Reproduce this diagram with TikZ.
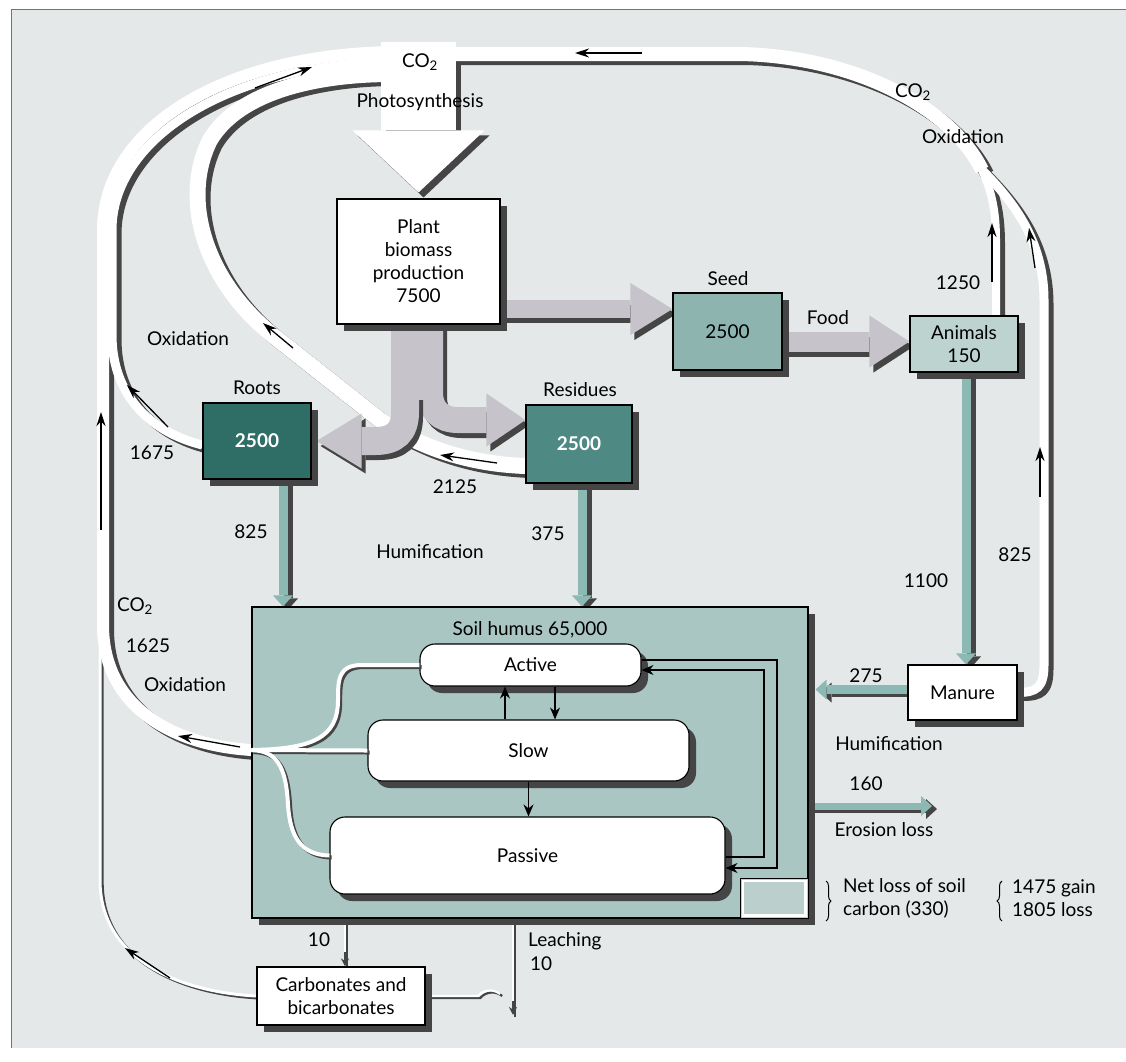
\documentclass[tikz,border=0pt]{standalone}
\usepackage{fontspec}
\setmainfont{Lato}
\usetikzlibrary{arrows.meta,shadows,decorations.pathreplacing,calc}
\pgfdeclarelayer{back}
\pgfdeclarelayer{bands}
\pgfdeclarelayer{arrs}
\pgfsetlayers{back,bands,arrs,main}
\definecolor{bgc}{HTML}{E4E8E8}
\definecolor{bsh}{HTML}{454545}
\definecolor{grayc}{HTML}{C6C4CA}
\definecolor{tealc}{HTML}{8DB9B4}
\definecolor{rootc}{HTML}{2F6E67}
\definecolor{resc}{HTML}{4E8984}
\definecolor{seedc}{HTML}{8EB4AF}
\definecolor{animc}{HTML}{BCD3D0}
\definecolor{soilc}{HTML}{A9C6C3}
\definecolor{insetc}{HTML}{BBD0CD}
\begin{document}
\begin{tikzpicture}[x=1pt,y=-1pt,
  font=\fontsize{19}{23}\selectfont,
  lbl/.style={inner sep=0pt, align=center},
  box/.style={draw=black, line width=1.1pt, inner sep=2pt, align=center,
     drop shadow={shadow xshift=7pt, shadow yshift=-7pt, opacity=1, fill=bsh}},
  pool/.style={box, rounded corners=15pt, fill=white},
  wsh/.style={draw=bsh, line width=#1, transform canvas={xshift=5pt,yshift=-4pt}},
  wfg/.style={draw=white, line width=#1},
  tsh/.style={draw=bsh, line width=#1, transform canvas={xshift=2.2pt,yshift=-2pt}},
  tfg/.style={draw=white, line width=#1},
  barr/.style={draw=black, line width=1.3pt, -{Stealth[length=14pt,width=9pt]}},
  iarr/.style={draw=black, line width=1.3pt, -{Stealth[length=12pt,width=10pt]}},
  garr/.style n args={3}{draw=grayc, line width=#1,
     -{Triangle[length=#2,width=#3,line width=0pt 0 0]}},
  gsh/.style n args={3}{draw=bsh, line width=#1,
     -{Triangle[length=#2,width=#3,line width=0pt 0 0]}, transform canvas={xshift=4pt,yshift=-5pt}},
  tarr/.style={draw=tealc, line width=9pt,
     -{Triangle[length=11pt,width=20pt,line width=0pt 0 0]}},
  tash/.style={draw=bsh, line width=9pt,
     -{Triangle[length=11pt,width=20pt,line width=0pt 0 0]}, transform canvas={xshift=5pt,yshift=-3pt}},
]
\useasboundingbox (0,0) rectangle (1126,1061);
\begin{pgfonlayer}{back}
  \fill[white] (0,0) rectangle (1126,1061);
  \fill[bgc] (11,9) rectangle (1126,1048);
  \draw[black!55, line width=1pt] (11,1048) -- (11,9) -- (1126,9);
\end{pgfonlayer}

% ---------- boxes ----------
\node[box, fill=soilc, minimum width=556pt, minimum height=311pt] (soil) at (530,762.5) {};
\node[draw=black, line width=0.8pt, fill=insetc, minimum width=68pt, minimum height=40pt,
      anchor=south east, inner sep=0pt] (inset) at (soil.south east) {};
\draw[white, line width=2.5pt] ([shift={(3pt,-3pt)}]inset.north west) rectangle ([shift={(-3pt,3pt)}]inset.south east);
\node[pool, minimum width=221pt, minimum height=42pt] (active) at (530.5,665) {Active};
\node[pool, minimum width=321pt, minimum height=61pt] (slow) at (528.5,750.5) {Slow};
\node[pool, minimum width=395pt, minimum height=77pt] (passive) at (527.5,855.5) {Passive};
\node[box, fill=white, minimum width=163pt, minimum height=125pt] (plant) at (418.5,261.5) {Plant\\biomass\\production\\7500};
\node[box, fill=seedc, minimum width=109pt, minimum height=77pt] (seed) at (727.5,331.5) {2500};
\node[box, fill=animc, minimum width=108pt, minimum height=56pt] (animals) at (964,344) {Animals\\150};
\node[box, fill=rootc, text=white, font=\fontsize{19}{23}\selectfont\bfseries, minimum width=108pt, minimum height=76pt] (roots) at (257,441) {2500};
\node[box, fill=resc, text=white, font=\fontsize{19}{23}\selectfont\bfseries, minimum width=106pt, minimum height=78pt] (residues) at (579,444) {2500};
\node[box, fill=white, minimum width=109pt, minimum height=55pt] (manure) at (962.5,692.5) {Manure};
\node[box, fill=white, minimum width=168pt, minimum height=58pt] (carb) at (341,996) {Carbonates and\\bicarbonates};

\coordinate (merge) at ([yshift=12.5pt]soil.west);
\coordinate (leachend) at (513,1015);
\coordinate (eros) at (932,806);
\coordinate (sEm) at ([xshift=7pt]soil.east);

% ---------- white bands ----------
\def\carbL{(carb.west) .. controls (180,992) and (100,960) .. (100,880) -- (100,650)}
\def\bandA{(merge) .. controls (170,745) and (103,705) .. (103,625) -- (103,230) .. controls (103,130) and (220,55) .. (392,52)}
\def\bandB{([yshift=-4pt]roots.west) .. controls (150,432) and (112,395) .. (112,335) -- (112,230) .. controls (112,140) and (225,65) .. (392,62)}
\def\bandC{([yshift=-22pt]residues.west) .. controls (470,464) and (420,448) .. (380,420) -- (275,337) .. controls (205,282) and (180,200) .. (210,140) .. controls (240,90) and (320,74) .. (392,74)}
\def\bandD{(452,54) -- (740,54) .. controls (850,56) and (950,105) .. (982,170)}
\def\bandDa{(982,170) .. controls (992,192) and (996,212) .. (996,240) -- ([xshift=32pt]animals.north)}
\def\bandDb{(982,170) .. controls (1012,200) and (1044,240) .. (1044,300) -- (1044,665) .. controls (1044,688) and (1036,692.5) .. (manure.east)}
\begin{pgfonlayer}{bands}
  \draw[tsh=3] \carbL; \draw[tfg=3] \carbL;
  \draw[wsh=12] \bandA; \draw[wsh=9] \bandB; \draw[wsh=16] \bandC;
  \draw[wfg=12] \bandA; \draw[wfg=9] \bandB; \draw[wfg=16] \bandC;
  % photosynthesis arrow
  \draw[draw=bsh, line width=75pt, -{Triangle[length=62pt,width=132pt,line width=0pt 0 0]},
        transform canvas={xshift=5pt,yshift=-5pt}] (418.5,42) -- ([yshift=6pt]plant.north);
  \draw[draw=white, line width=75pt, -{Triangle[length=62pt,width=132pt,line width=0pt 0 0]}]
        (418.5,42) coordinate (photo) -- ([yshift=6pt]plant.north);
  \draw[wsh=14] \bandD; \draw[wsh=8] \bandDa; \draw[wsh=9] \bandDb;
  \draw[wfg=14] \bandD; \draw[wfg=8] \bandDa; \draw[wfg=9] \bandDb;
  % direction marks on bands
  \draw[barr] (642,53) -- (575,53);
  \draw[barr] (255,88) -- (312,67);
  \draw[barr] (101,530) -- (101,412);
  \draw[barr] (168,427) -- (127,385);
  \draw[barr] (293,348) -- (263,323);
  \draw[barr] (497,463) -- (440,455);
  \draw[barr] (992,282) -- (992,223);
  \draw[barr] (1035,268) -- (1029,228);
  \draw[barr] (1040,497) -- (1040,447);
  \draw[barr] (240,747) -- (178,736);
  \draw[barr] (170,978) -- (125,948);
\end{pgfonlayer}

% ---------- grey and teal arrows ----------
\def\gR{(430,324) -- (430,392) .. controls (430,410) and (440,420) .. (458,420) -- (residues.west |- 0,420)}
\def\gL{([xshift=-13.5pt,yshift=-61pt]plant.south) -- (405,412) .. controls (405,432) and (395,441) .. (375,441) -- ([xshift=5pt]roots.east)}
\def\gS{([yshift=-47.5pt]plant.east) coordinate (ps) -- (ps -| seed.west)}
\def\gF{([yshift=-10pt]seed.east) coordinate (sa) -- (sa -| animals.west)}
\def\tR{([xshift=26pt]roots.south) coordinate (rt) -- (rt |- soil.north)}
\def\tS{([xshift=3pt]residues.south) coordinate (rs) -- (rs |- soil.north)}
\def\tA{([xshift=2pt]animals.south) coordinate (am) -- (am |- manure.north)}
\def\tM{([yshift=3pt]manure.west) coordinate (mw) -- (mw -| sEm)}
\def\tE{([yshift=-43.5pt]soil.east) -- (eros)}
\begin{pgfonlayer}{arrs}
  \draw[gsh={26pt}{39pt}{53pt}] \gR;
  \draw[garr={26pt}{39pt}{53pt}] \gR;
  \draw[gsh={28pt}{45pt}{55pt}] \gL;
  \draw[garr={28pt}{45pt}{55pt}] \gL;
  \fill[grayc] ([xshift=-27.5pt]plant.south) rectangle ([xshift=24.5pt,yshift=-75pt]plant.south);
  \draw[gsh={18pt}{42pt}{52pt}] \gS;
  \draw[garr={18pt}{42pt}{52pt}] \gS;
  \draw[gsh={20pt}{40pt}{52pt}] \gF;
  \draw[garr={20pt}{40pt}{52pt}] \gF;
  \draw[tash] \tR; \draw[tarr] \tR;
  \draw[tash] \tS; \draw[tarr] \tS;
  \draw[tash] \tA; \draw[tarr] \tA;
  \draw[tash] \tM; \draw[tarr] \tM;
  \draw[tash, line width=7pt] \tE; \draw[tarr, line width=7pt] \tE;
  % soil to carbonates, leaching
  \draw[tsh=2.5] ([xshift=-185pt]soil.south) coordinate (c1) -- (c1 |- carb.north);
  \draw[tfg=2.5] (c1) -- (c1 |- carb.north);
  \draw[tsh=2.5] ([xshift=-17pt]soil.south) coordinate (l1) -- (l1 |- leachend);
  \draw[tfg=2.5] (l1) -- (l1 |- leachend);
  \draw[tsh=2.2] (carb.east) -- (478,996) .. controls (484,989) and (494,989) .. (500,994);
  \draw[tfg=2.2] (carb.east) -- (478,996) .. controls (484,989) and (494,989) .. (500,994);
\end{pgfonlayer}
\draw[bsh, line width=1.2pt, -{Stealth[length=8pt,width=8pt]}] ([yshift=14pt]c1 |- carb.north) -- (c1 |- carb.north);
\draw[bsh, line width=1.2pt, -{Stealth[length=8pt,width=8pt]}] ([yshift=14pt]l1 |- leachend) -- (l1 |- leachend);

% ---------- soil outflows ----------
\def\outA{(active.west) -- (362,665) .. controls (338,665) and (338,680) .. (338,700) .. controls (338,738) and (312,749) .. (merge)}
\def\outS{(slow.west) -- (merge)}
\def\outP{(passive.west) .. controls (300,855) and (290,835) .. (288,805) .. controls (286,765) and (276,751) .. (merge)}
\draw[tsh=4] \outA; \draw[tsh=4] \outS; \draw[tsh=4] \outP;
\draw[tfg=4] \outA; \draw[tfg=4] \outS; \draw[tfg=4] \outP;

% ---------- internal soil arrows ----------
\draw[iarr] ([xshift=-23.5pt]slow.north) coordinate (s1) -- (s1 |- active.south);
\draw[iarr] ([xshift=24.5pt]active.south) coordinate (a1) -- (a1 |- slow.north);
\draw[iarr] (slow.south) -- (slow.south |- passive.north);
\draw[iarr] ([yshift=5pt]active.east) -| (777,868) -- ([yshift=-12.5pt]passive.east);
\draw[iarr] ([yshift=-1.5pt]passive.east) -| (764,670) -- ([yshift=-5pt]active.east);

% ---------- braces ----------
\draw[line width=1pt, decorate, decoration={brace, amplitude=5pt}] (826,881) -- (826,921);
\draw[line width=1pt, decorate, decoration={brace, amplitude=5pt}] (1002,921) -- (1002,881);

% ---------- labels ----------
\node[lbl] (tco2a) at (420,62) {CO\textsubscript{2}};
\node[lbl] (tphot) at (420,102) {Photosynthesis};
\node[lbl] (tco2b) at (913,92) {CO\textsubscript{2}};
\node[lbl] (toxb) at (963,137) {Oxidation};
\node[lbl] (t1250) at (958,283) {1250};
\node[lbl] (tseed) at (728,279) {Seed};
\node[lbl] (tfood) at (828,318) {Food};
\node[lbl] (toxa) at (188,339) {Oxidation};
\node[lbl] (troots) at (257,388) {Roots};
\node[lbl] (tres) at (580,390) {Residues};
\node[lbl] (t1675) at (152,453) {1675};
\node[lbl] (t2125) at (455,487) {2125};
\node[lbl] (t825a) at (251,532) {825};
\node[lbl] (t375) at (548,534) {375};
\node[lbl] (thum) at (430,552) {Humification};
\node[lbl] (t825b) at (1015,555) {825};
\node[lbl] (t1100) at (926,581) {1100};
\node[lbl] (tco2c) at (135,606) {CO\textsubscript{2}};
\node[lbl] (t1625) at (148,646) {1625};
\node[lbl] (toxc) at (185,685) {Oxidation};
\node[lbl] (tsoil) at (530,630) {Soil humus 65,000};
\node[lbl] (t275) at (866,676) {275};
\node[lbl] (thum2) at (889,744) {Humification};
\node[lbl] (t160) at (866,784) {160};
\node[lbl] (teros) at (884,830) {Erosion loss};
\node[lbl, anchor=west, align=left] (tnet) at (843,898) {Net loss of soil\\carbon (330)};
\node[lbl, anchor=west, align=left] (tgl) at (1012,898) {1475 gain\\1805 loss};
\node[lbl] (t10a) at (319,940) {10};
\node[lbl, anchor=west] (tleach) at (528,941) {Leaching};
\node[lbl, anchor=west] (t10b) at (530,964) {10};
\end{tikzpicture}
\end{document}
